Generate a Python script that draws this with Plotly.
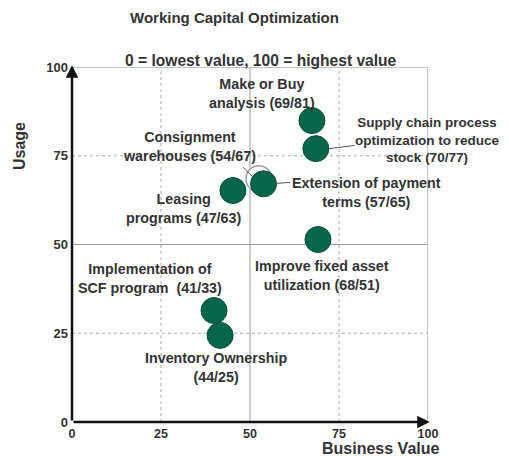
import plotly.graph_objects as go

# Data
names = ["Make or Buy<br>analysis (69/81)",
         "Supply chain process<br>optimization to reduce<br>stock (70/77)",
         "Consignment<br>warehouses (54/67)",
         "Extension of payment<br>terms (57/65)",
         "Leasing<br>programs (47/63)",
         "Improve fixed asset<br>utilization (68/51)",
         "Implementation of<br>SCF program  (41/33)",
         "Inventory Ownership<br>(44/25)"]
business_value = [67.4, 68.5, 52.5, 53.8, 45.2, 69.1, 39.9, 41.6]
usage = [84.9, 77.0, 68.5, 67.1, 65.2, 51.4, 31.4, 24.4]
tick_vals = [0, 25, 50, 75, 100]
tick_text = ["0", "25", "50", "75", "100"]

# label centres (screen pixels) and sizes
label_px = [262, 427, 189, 366, 183, 322, 150, 216]
label_py = [93, 140, 146, 192, 208, 275, 278, 367]
label_fs = [14.3, 13.5, 14.3, 14.3, 14.3, 14.3, 14.3, 14.3]

GREEN = "#07654a"
TXT = "#333333"
FONT = "Liberation Sans, Arial, sans-serif"

# page has an 8px body margin
OFF = 8
W, H = 509 - OFF, 456 - OFF
PL, PT, PW, PH = 72, 67, 356, 355  # plot area in screen pixels


def to_paper(sx, sy):
    return (sx - PL) / PW, 1 - (sy - PT) / PH


fig = go.Figure()

fig.add_trace(go.Scatter(x=[business_value[2]], y=[usage[2]], mode="markers",
                         marker=dict(size=26, color="white", line=dict(color="#9aa39f", width=1.5)),
                         hoverinfo="skip", showlegend=False))
idx = [0, 1, 3, 4, 5, 6, 7]
fig.add_trace(go.Scatter(x=[business_value[i] for i in idx], y=[usage[i] for i in idx],
                         mode="markers",
                         marker=dict(size=26, color=GREEN, line=dict(color="#045038", width=1)),
                         hoverinfo="skip", showlegend=False))

shapes = []
for v in [25, 75]:
    shapes.append(dict(type="line", xref="x", yref="y", x0=v, x1=v, y0=0, y1=100,
                       line=dict(color="#aaaaaa", width=1, dash="dot"), layer="below"))
    shapes.append(dict(type="line", xref="x", yref="y", x0=0, x1=100, y0=v, y1=v,
                       line=dict(color="#aaaaaa", width=1, dash="dot"), layer="below"))
shapes.append(dict(type="line", xref="x", yref="y", x0=50, x1=50, y0=0, y1=100,
                   line=dict(color="#999999", width=1), layer="below"))
shapes.append(dict(type="line", xref="x", yref="y", x0=0, x1=100, y0=50, y1=50,
                   line=dict(color="#999999", width=1), layer="below"))
shapes.append(dict(type="line", xref="x", yref="y", x0=0, x1=100, y0=100, y1=100,
                   line=dict(color="#b0b0b0", width=1.5), layer="below"))
shapes.append(dict(type="line", xref="x", yref="y", x0=100, x1=100, y0=0, y1=100,
                   line=dict(color="#b0b0b0", width=1.5), layer="below"))
# leader lines
shapes.append(dict(type="line", xref="x", yref="y", x0=72.2, x1=79.4, y0=77.0, y1=77.9,
                   line=dict(color="#555555", width=1)))
shapes.append(dict(type="line", xref="x", yref="y", x0=57.3, x1=61.2, y0=67.2, y1=67.5,
                   line=dict(color="#555555", width=1)))
shapes.append(dict(type="line", xref="x", yref="y", x0=48.0, x1=50.8, y0=71.8, y1=69.0,
                   line=dict(color="#555555", width=1)))

annotations = []
for i, n in enumerate(names):
    px, py = to_paper(label_px[i], label_py[i])
    annotations.append(dict(x=px, y=py, xref="paper", yref="paper", text="<b>" + n + "</b>",
                            showarrow=False, align="center", xanchor="center", yanchor="middle",
                            font=dict(family=FONT, size=label_fs[i], color=TXT)))
# axis arrows
annotations.append(dict(x=0, y=100.5, ax=0, ay=0, xref="x", yref="y", axref="x", ayref="y",
                        showarrow=True, arrowhead=2, arrowsize=1, arrowwidth=2.5,
                        arrowcolor="#111111", text=""))
annotations.append(dict(x=100.5, y=0, ax=0, ay=0, xref="x", yref="y", axref="x", ayref="y",
                        showarrow=True, arrowhead=2, arrowsize=1, arrowwidth=2.5,
                        arrowcolor="#111111", text=""))

texts = [(234, 18, "<b>Working Capital Optimization</b>", 15, 0),
         (261, 60, "<b>0 = lowest value, 100 = highest value</b>", 15.6, 0),
         (19, 146, "<b>Usage</b>", 16, -90),
         (380, 449, "<b>Business Value</b>", 16, 0)]
for sx, sy, t, fs, ang in texts:
    px, py = to_paper(sx, sy)
    annotations.append(dict(x=px, y=py, xref="paper", yref="paper", text=t, textangle=ang,
                            showarrow=False, xanchor="center", yanchor="middle",
                            font=dict(family=FONT, size=fs, color=TXT)))

L = PL - OFF
T = PT - OFF
R = W - L - PW
B = H - T - PH

fig.update_layout(
    width=W, height=H, margin=dict(l=L, r=R, t=T, b=B, autoexpand=False),
    paper_bgcolor="white", plot_bgcolor="white",
    shapes=shapes, annotations=annotations,
    xaxis=dict(range=[0, 100], tickvals=tick_vals, ticktext=tick_text, showgrid=False,
               zeroline=False, showline=False, ticks="", ticklabelstandoff=2,
               tickfont=dict(family=FONT, size=12.5, color=TXT, weight="bold"), fixedrange=True),
    yaxis=dict(range=[0, 100], tickvals=tick_vals, ticktext=tick_text, showgrid=False,
               zeroline=False, showline=False, ticks="", ticklabelstandoff=3,
               tickfont=dict(family=FONT, size=13, color=TXT, weight="bold"), fixedrange=True),
)

fig.write_html("out.html")
